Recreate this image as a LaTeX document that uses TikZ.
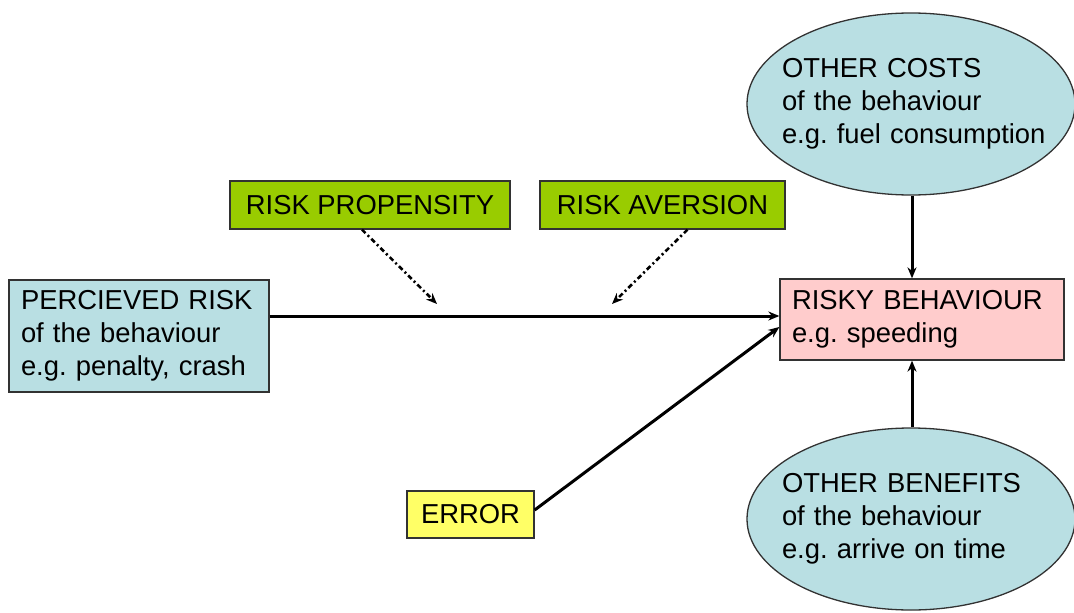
\documentclass[tikz,border=0pt]{standalone}
\usepackage{fontspec}
\setmainfont{Liberation Sans}
\usetikzlibrary{shapes.geometric,arrows.meta}
\definecolor{cblue}{RGB}{185,223,227}
\definecolor{cgreen}{RGB}{153,204,0}
\definecolor{cpink}{RGB}{255,204,204}
\definecolor{cyellow}{RGB}{255,255,102}
\definecolor{cedge}{RGB}{50,50,50}
\begin{document}
\frenchspacing
\begin{tikzpicture}[x=1pt,y=-1pt,
  txt/.style={font=\fontsize{27.4}{33}\selectfont},
  boxnode/.style={txt,draw=cedge,line width=1.3pt,rectangle,inner sep=0pt,anchor=center},
  ellnode/.style={txt,draw=cedge,line width=1.3pt,ellipse,fill=cblue,inner xsep=-40pt,inner ysep=0pt,
     minimum width=328pt,minimum height=182pt,text width=275pt,align=left},
  arr/.style={line width=3pt,-{Stealth[length=11pt,width=9pt]}},
  darr/.style={line width=2.6pt,dash pattern=on 5pt off 3pt on 2pt off 3pt,-{Stealth[length=11pt,width=9pt]}}]
\useasboundingbox (0,0) rectangle (1074,613);

\node[boxnode,fill=cblue,minimum width=260pt,minimum height=112pt,text width=236pt,align=left] (perc) at (139,336)
  {PERCIEVED RISK\\of the behaviour\\e.g. penalty, crash};
\node[boxnode,fill=cgreen,minimum width=280pt,minimum height=48pt] (prop) at (370,205) {RISK PROPENSITY};
\node[boxnode,fill=cgreen,minimum width=245pt,minimum height=48pt] (aver) at (662.5,205) {RISK AVERSION};
\node[boxnode,fill=cpink,minimum width=284pt,minimum height=81pt,text width=260pt,align=left] (risky) at (922,319.5)
  {RISKY BEHAVIOUR\\e.g. speeding};
\node[boxnode,fill=cyellow,minimum width=127pt,minimum height=47pt] (err) at (470.5,514.5) {ERROR};
\node[ellnode] (costs) at (911,104) {\hspace*{8.5pt}OTHER COSTS\\\hspace*{8.5pt}of the behaviour\\\hspace*{8.5pt}e.g. fuel consumption};
\node[ellnode] (bene) at (911,519) {\hspace*{8.5pt}OTHER BENEFITS\\\hspace*{8.5pt}of the behaviour\\\hspace*{8.5pt}e.g. arrive on time};

\coordinate (pend) at (437,304);
\coordinate (aend) at (612,304);

\draw[arr] ([yshift=20pt]perc.east) -- ([yshift=3.5pt]risky.west);
\draw[darr] ([xshift=-8pt]prop.south) -- (pend);
\draw[darr] ([xshift=25pt]aver.south) -- (aend);
\draw[arr] ([yshift=4.5pt]err.east) -- ([yshift=-7.5pt]risky.west);
\draw[arr] ([xshift=1pt]costs.south) -- ([xshift=1pt]costs.south |- risky.north);
\draw[arr] ([xshift=1pt]bene.north) -- ([xshift=1pt]bene.north |- risky.south);
\end{tikzpicture}
\end{document}
